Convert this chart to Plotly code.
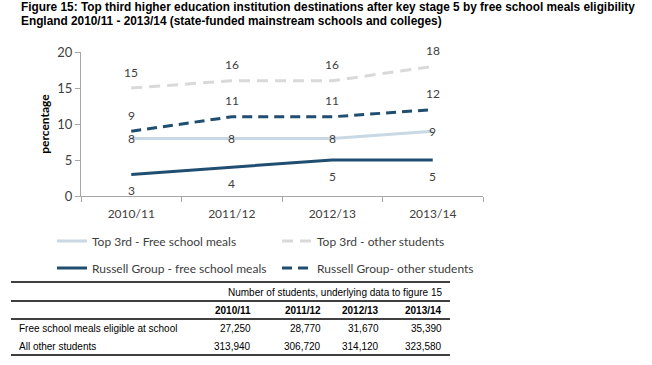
import plotly.graph_objects as go

years = ["2010/11", "2011/12", "2012/13", "2013/14"]
top3_fsm = [8, 8, 8, 9]
top3_other = [15, 16, 16, 18]
russell_fsm = [3, 4, 5, 5]
russell_other = [9, 11, 11, 12]

table_header = "Number of students, underlying data to figure 15"
table_rows = ["Free school meals eligible at school", "All other students"]
fsm_counts = ["27,250", "28,770", "31,670", "35,390"]
other_counts = ["313,940", "306,720", "314,120", "323,580"]

W, H = 652, 365
PL, PR, PT, PB = 81, 483, 52, 196  # plot area in window pixels

def px(x):
    return (x - PL) / (PR - PL)

def py(y):
    return (PB - y) / (PB - PT)

CHART_FONT = "Lato"
TEXT_COL = "#404040"
DARK = "#1F4E70"
LIGHT_BLUE = "#C8D8E4"
LIGHT_GRAY = "#D9D9D9"

fig = go.Figure()
fig.add_trace(go.Scatter(x=years, y=top3_fsm, mode="lines", name="Top 3rd - Free school meals",
                         line=dict(color=LIGHT_BLUE, width=3), legend="legend"))
fig.add_trace(go.Scatter(x=years, y=top3_other, mode="lines", name="Top 3rd - other students",
                         line=dict(color=LIGHT_GRAY, width=3, dash="11px,7px"), legend="legend"))
fig.add_trace(go.Scatter(x=years, y=russell_fsm, mode="lines", name="Russell Group - free school meals",
                         line=dict(color=DARK, width=3), legend="legend2"))
fig.add_trace(go.Scatter(x=years, y=russell_other, mode="lines", name="Russell Group- other students",
                         line=dict(color=DARK, width=3, dash="10px,6px"), legend="legend2"))

ann = []
lab_font = dict(family=CHART_FONT, size=12, color=TEXT_COL)
for series, shift in [(top3_other, 16), (russell_other, 16), (top3_fsm, 0), (russell_fsm, -16)]:
    for xv, yv in zip(years, series):
        ann.append(dict(x=xv, y=yv, xref="x", yref="y", text=str(yv), showarrow=False,
                        yshift=shift, font=lab_font))

# Title
title_font = dict(family="Liberation Sans", size=11.85, color="#000000")
ann.append(dict(x=px(19), y=py(7), xref="paper", yref="paper", xanchor="left", yanchor="middle",
                text="<b>Figure 15: Top third higher education institution destinations after key stage 5 by free school meals eligibility</b>",
                showarrow=False, font=title_font))
ann.append(dict(x=px(19), y=py(21), xref="paper", yref="paper", xanchor="left", yanchor="middle",
                text="<b>England 2010/11 - 2013/14 (state-funded mainstream schools and colleges)</b>",
                showarrow=False, font=title_font))

# Table
tfont = dict(family="Liberation Sans", size=10, color="#000000")
col_right = [253, 323, 381, 444]
ann.append(dict(x=px(444), y=py(292), xref="paper", yref="paper", xanchor="right", yanchor="middle",
                text=table_header, showarrow=False, font=tfont))
for xr, yr in zip(col_right, years):
    ann.append(dict(x=px(xr), y=py(310), xref="paper", yref="paper", xanchor="right", yanchor="middle",
                    text="<b>" + yr + "</b>", showarrow=False, font=tfont))
for row_label, vals, yrow in [(table_rows[0], fsm_counts, 328), (table_rows[1], other_counts, 346)]:
    ann.append(dict(x=px(17), y=py(yrow), xref="paper", yref="paper", xanchor="left", yanchor="middle",
                    text=row_label, showarrow=False, font=tfont))
    for xr, v in zip(col_right, vals):
        ann.append(dict(x=px(xr), y=py(yrow), xref="paper", yref="paper", xanchor="right", yanchor="middle",
                        text=v, showarrow=False, font=tfont))

shapes = []
for yl in [282, 301, 319, 355]:
    shapes.append(dict(type="line", xref="paper", yref="paper", x0=px(11), x1=px(450),
                       y0=py(yl), y1=py(yl), line=dict(color="#000000", width=1.3)))

leg_font = dict(family=CHART_FONT, size=12, color=TEXT_COL)
fig.update_layout(
    width=W, height=H, autosize=False,
    margin=dict(l=PL, r=W - PR, t=PT, b=H - PB, pad=0, autoexpand=False),
    paper_bgcolor="white", plot_bgcolor="white",
    font=dict(family=CHART_FONT, size=12, color=TEXT_COL),
    xaxis=dict(showgrid=False, showline=True, linecolor="#A6A6A6", linewidth=1,
               ticks="outside", tickson="boundaries", ticklen=5, tickcolor="#A6A6A6",
               ticklabelstandoff=7,
               tickfont=dict(family=CHART_FONT, size=12, color=TEXT_COL), range=[-0.5, 3.5]),
    yaxis=dict(range=[0, 20], tickvals=[0, 5, 10, 15, 20], showgrid=False, showline=True,
               linecolor="#A6A6A6", linewidth=1, ticks="outside", ticklen=5, tickcolor="#A6A6A6",
               zeroline=False, tickfont=dict(family=CHART_FONT, size=13, color=TEXT_COL),
               title=dict(text="<b>percentage</b>", font=dict(family=CHART_FONT, size=12, color="#000000"), standoff=5)),
    legend=dict(orientation="h", x=px(52), y=py(241), xanchor="left", yanchor="middle",
                font=leg_font, entrywidth=180, entrywidthmode="pixels", bgcolor="rgba(0,0,0,0)"),
    legend2=dict(orientation="h", x=px(52), y=py(268), xanchor="left", yanchor="middle",
                 font=leg_font, entrywidth=180, entrywidthmode="pixels", bgcolor="rgba(0,0,0,0)"),
    annotations=ann, shapes=shapes,
)

# remove the browser's default 8px body margin so the figure fills the window exactly
fig.write_html("out.html", config={"displayModeBar": False},
               post_script="document.body.style.margin='0';")
